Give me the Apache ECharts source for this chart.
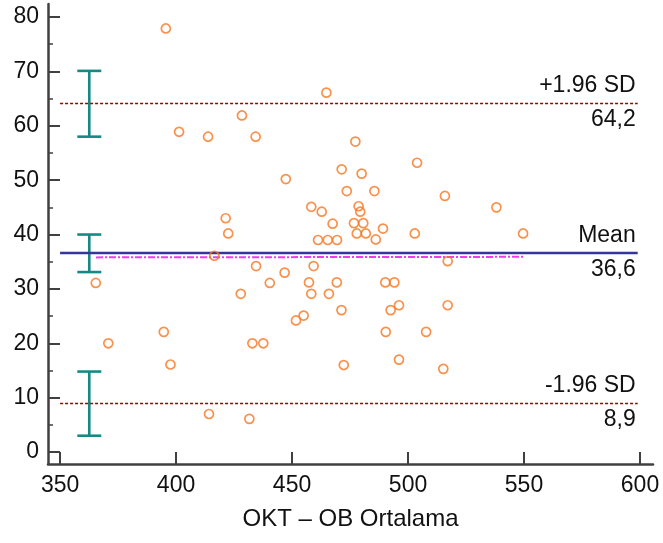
<!DOCTYPE html>
<html><head><meta charset="utf-8">
<script src="https://cdn.jsdelivr.net/npm/echarts@6/dist/echarts.min.js"></script>
<style>html,body{margin:0;padding:0;background:#fff}#c{width:663px;height:543px}</style>
</head><body><div id="c"></div>
<script>
// ---- data ----
const meanX = [395.6,401.3,365.4,370.8,394.7,397.6,464.8,428.4,413.8,434.3,477.3,447.3,471.4,480.0,473.6,485.5,458.3,462.8,478.7,479.4,421.4,422.5,467.5,476.7,480.7,489.2,461.2,465.4,469.4,477.9,481.8,486.1,503.9,515.9,538.1,502.9,549.6,416.5,434.5,459.3,446.8,440.4,457.3,469.3,490.2,494.1,427.9,458.3,465.9,471.3,492.5,496.1,455.0,451.7,490.4,432.9,437.6,472.3,496.1,414.2,431.6,517.1,517.1,507.8,515.2];
const diffY = [77.9,58.9,31.1,20.0,22.1,16.1,66.1,61.9,58.0,58.0,57.1,50.2,52.0,51.2,48.0,48.0,45.1,44.2,45.2,44.2,43.0,40.2,42.0,42.1,42.1,41.1,39.0,39.0,39.0,40.2,40.2,39.1,53.2,47.1,45.0,40.2,40.2,36.1,34.2,34.2,33.0,31.1,31.2,31.2,31.2,31.2,29.1,29.1,29.1,26.1,26.1,27.0,25.1,24.2,22.1,20.0,20.0,16.0,17.0,7.0,6.1,35.1,27.0,22.1,15.3];
const xTicks = [350,400,450,500,550,600];
const yTicks = [0,10,20,30,40,50,60,70,80];
const yMinorTicks = [5,15,25,35,45,55,65,75];
const upperLimit = 64.2, meanDiff = 36.6, lowerLimit = 8.9;
const upperLabel = '+1.96 SD', meanLabel = 'Mean', lowerLabel = '-1.96 SD';
const lineSpan = [350, 599];
const ciX = 362.6;
const ciUpper = [58.0, 70.1];
const ciMean = [33.1, 40.0];
const ciLower = [3.0, 14.8];
const regX = [365.5, 550];
const regY = [35.8, 35.9];
const xTitle = 'OKT \u2013 OB Ortalama';
const fmt = v => v.toFixed(1).replace('.', ',');

const FONT = "'Liberation Sans', Arial, sans-serif";
const axisCol = '#404040';
const txt = '#111';

function limitLine(value, topText, color, type, width) {
  return [
    [{coord:[lineSpan[0], value], lineStyle:{color, type, width},
      label:{show:true, formatter:topText, position:'insideEndTop', distance:[2,6], fontSize:23, fontFamily:FONT, color:txt}},
     {coord:[lineSpan[1], value]}],
    [{coord:[lineSpan[0], value], lineStyle:{color:'rgba(0,0,0,0)', width:0},
      label:{show:true, formatter:fmt(value), position:'insideEndBottom', distance:[2,5], fontSize:23, fontFamily:FONT, color:txt}},
     {coord:[lineSpan[1], value]}]
  ];
}

const chart = echarts.init(document.getElementById('c'), null, {renderer:'canvas'});
chart.setOption({
  animation:false,
  backgroundColor:'#fff',
  grid:{left:48, right:10, top:4, bottom:79, containLabel:false},
  xAxis:{
    type:'value', min:344.8, max:605.6,
    axisLine:{show:true, onZero:false, lineStyle:{color:axisCol, width:2.5}},
    axisTick:{show:true, inside:true, length:12, customValues:xTicks, lineStyle:{color:axisCol, width:2}},
    axisLabel:{customValues:xTicks, fontSize:23, fontFamily:FONT, color:txt, margin:10},
    splitLine:{show:false},
    name:xTitle, nameLocation:'middle', nameGap:43,
    nameTextStyle:{fontSize:24, fontFamily:FONT, color:txt}
  },
  yAxis:[{
    type:'value', min:-2.2, max:82.4, position:'left',
    axisLine:{show:true, onZero:false, lineStyle:{color:axisCol, width:2.5}},
    axisTick:{show:true, inside:true, length:12, customValues:yTicks, lineStyle:{color:axisCol, width:2}},
    axisLabel:{customValues:yTicks, fontSize:23, fontFamily:FONT, color:txt, margin:9},
    splitLine:{show:false}
  },{
    type:'value', min:-2.2, max:82.4, position:'left',
    axisLine:{show:false},
    axisTick:{show:true, inside:true, length:5, customValues:yMinorTicks, lineStyle:{color:axisCol, width:1.5}},
    axisLabel:{show:false},
    splitLine:{show:false}
  }],
  series:[
    {
      type:'line', data:[[regX[0],regY[0]],[regX[1],regY[1]]], symbol:'none', silent:true,
      lineStyle:{color:'#f03cf0', width:2, type:[7,2,2,2]}, z:2
    },
    {
      type:'scatter', data:[], silent:true,
      markLine:{
        symbol:'none', silent:true, animation:false,
        data:[
          ...limitLine(upperLimit, upperLabel, '#a00000', [3,2], 1.4),
          ...limitLine(meanDiff, meanLabel, '#35359c', 'solid', 2.4),
          ...limitLine(lowerLimit, lowerLabel, '#a00000', [3,2], 1.4)
        ]
      }, z:3
    },
    {
      type:'custom', silent:true, z:4,
      data:[[ciX, ciUpper[0], ciUpper[1]],[ciX, ciMean[0], ciMean[1]],[ciX, ciLower[0], ciLower[1]]],
      renderItem:function(params, api){
        const lo = api.coord([api.value(0), api.value(1)]);
        const hi = api.coord([api.value(0), api.value(2)]);
        const hw = 12;
        const style = {stroke:'#168985', lineWidth:2.6};
        return {type:'group', children:[
          {type:'line', shape:{x1:lo[0], y1:lo[1], x2:hi[0], y2:hi[1]}, style},
          {type:'line', shape:{x1:lo[0]-hw, y1:lo[1], x2:lo[0]+hw, y2:lo[1]}, style},
          {type:'line', shape:{x1:hi[0]-hw, y1:hi[1], x2:hi[0]+hw, y2:hi[1]}, style}
        ]};
      }
    },
    {
      type:'scatter', z:5,
      data:meanX.map((x,i)=>[x, diffY[i]]),
      symbol:'circle', symbolSize:9,
      itemStyle:{color:'rgba(255,255,255,0)', borderColor:'#f7761f', borderWidth:1.7}
    }
  ]
});
</script></body></html>
